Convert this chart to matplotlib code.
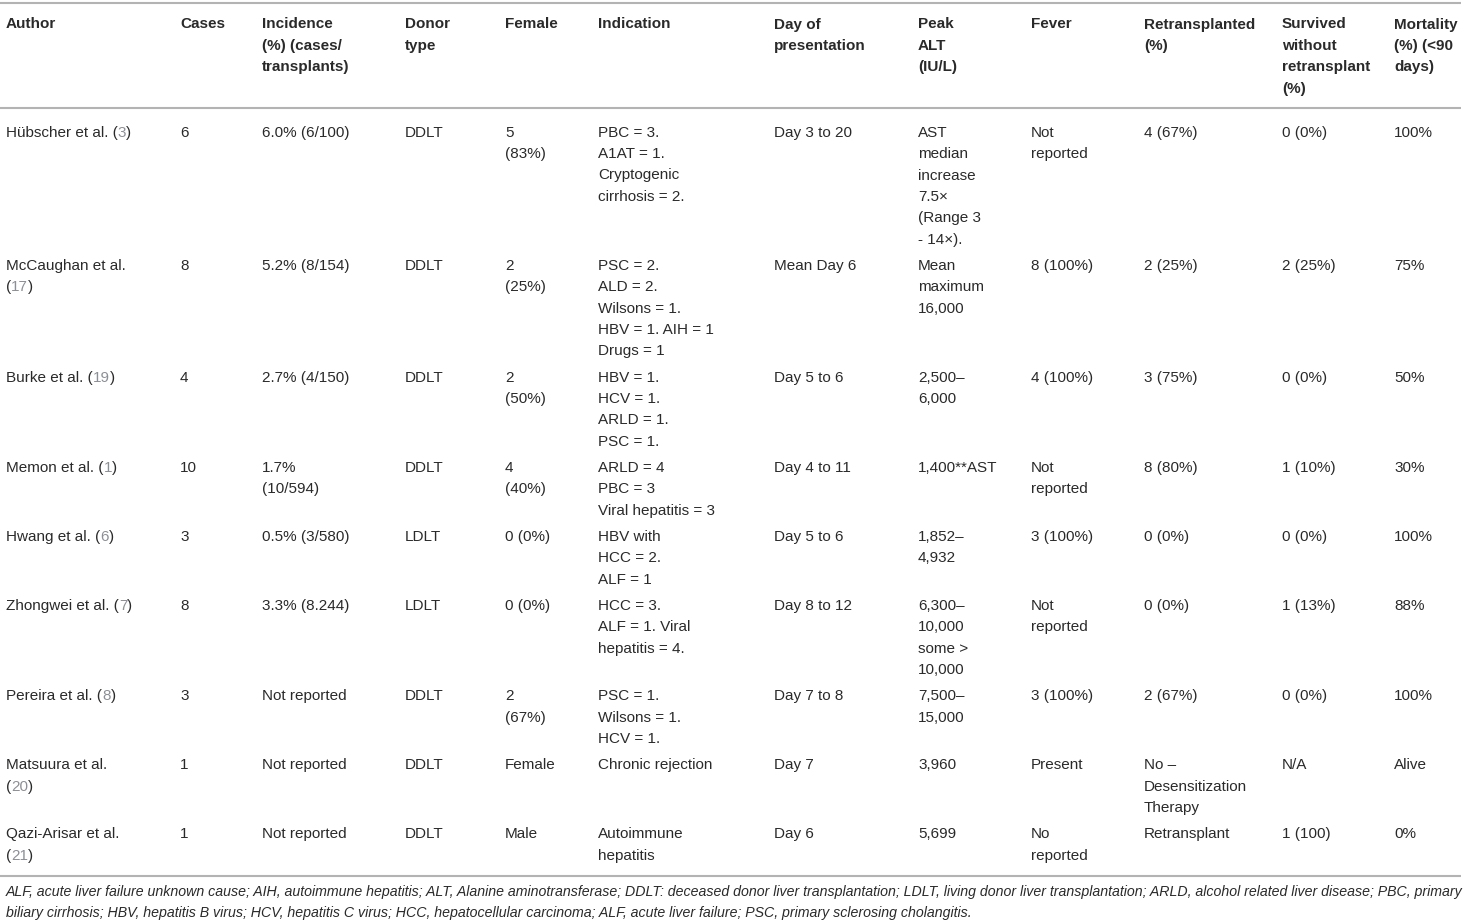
import matplotlib.pyplot as plt

plt.rcParams['font.family'] = ['Liberation Sans', 'DejaVu Sans']

headers = ["Author", "Cases", "Incidence\n(%) (cases/\ntransplants)", "Donor\ntype",
           "Female", "Indication", "Day of\npresentation", "Peak\nALT\n(IU/L)", "Fever",
           "Retransplanted\n(%)", "Survived\nwithout\nretransplant\n(%)",
           "Mortality\n(%) (<90\ndays)"]

authors = ["Hübscher et al.", "McCaughan et al.", "Burke et al.", "Memon et al.",
           "Hwang et al.", "Zhongwei et al.", "Pereira et al.", "Matsuura et al.",
           "Qazi-Arisar et al."]
refs = ["3", "17", "19", "1", "6", "7", "8", "20", "21"]
ref_newline = [False, True, False, False, False, False, False, True, True]

cases = ["6", "8", "4", "10", "3", "8", "3", "1", "1"]
incidence = ["6.0% (6/100)", "5.2% (8/154)", "2.7% (4/150)", "1.7%\n(10/594)",
             "0.5% (3/580)", "3.3% (8.244)", "Not reported", "Not reported", "Not reported"]
donor = ["DDLT", "DDLT", "DDLT", "DDLT", "LDLT", "LDLT", "DDLT", "DDLT", "DDLT"]
female = ["5\n(83%)", "2\n(25%)", "2\n(50%)", "4\n(40%)", "0 (0%)", "0 (0%)",
          "2\n(67%)", "Female", "Male"]
indication = ["PBC = 3.\nA1AT = 1.\nCryptogenic\ncirrhosis = 2.",
              "PSC = 2.\nALD = 2.\nWilsons = 1.\nHBV = 1. AIH = 1\nDrugs = 1",
              "HBV = 1.\nHCV = 1.\nARLD = 1.\nPSC = 1.",
              "ARLD = 4\nPBC = 3\nViral hepatitis = 3",
              "HBV with\nHCC = 2.\nALF = 1",
              "HCC = 3.\nALF = 1. Viral\nhepatitis = 4.",
              "PSC = 1.\nWilsons = 1.\nHCV = 1.",
              "Chronic rejection",
              "Autoimmune\nhepatitis"]
day = ["Day 3 to 20", "Mean Day 6", "Day 5 to 6", "Day 4 to 11", "Day 5 to 6",
       "Day 8 to 12", "Day 7 to 8", "Day 7", "Day 6"]
peak_alt = ["AST\nmedian\nincrease\n7.5×\n(Range 3\n- 14×).", "Mean\nmaximum\n16,000",
            "2,500–\n6,000", "1,400**AST", "1,852–\n4,932",
            "6,300–\n10,000\nsome >\n10,000", "7,500–\n15,000", "3,960", "5,699"]
fever = ["Not\nreported", "8 (100%)", "4 (100%)", "Not\nreported", "3 (100%)",
         "Not\nreported", "3 (100%)", "Present", "No\nreported"]
retransplanted = ["4 (67%)", "2 (25%)", "3 (75%)", "8 (80%)", "0 (0%)", "0 (0%)",
                  "2 (67%)", "No –\nDesensitization\nTherapy", "Retransplant"]
survived = ["0 (0%)", "2 (25%)", "0 (0%)", "1 (10%)", "0 (0%)", "1 (13%)", "0 (0%)",
            "N/A", "1 (100)"]
mortality = ["100%", "75%", "50%", "30%", "100%", "88%", "100%", "Alive", "0%"]

footnote = ("ALF, acute liver failure unknown cause; AIH, autoimmune hepatitis; ALT, Alanine "
            "aminotransferase; DDLT: deceased donor liver transplantation; LDLT, living donor "
            "liver transplantation; ARLD, alcohol related liver disease; PBC, primary\n"
            "biliary cirrhosis; HBV, hepatitis B virus; HCV, hepatitis C virus; HCC, "
            "hepatocellular carcinoma; ALF, acute liver failure; PSC, primary sclerosing cholangitis.")

other_cols = [cases, incidence, donor, female, indication, day, peak_alt, fever,
              retransplanted, survived, mortality]

col_x = [6, 180, 262, 405, 505, 598, 774, 918, 1031, 1144, 1282, 1394]
LH = 21.4
FS = 11
TXT = '#2a2a2a'
REF = '#8c9096'
RULE = '#b3b3b3'

fig = plt.figure(figsize=(14.64, 9.24), dpi=100)
ax = fig.add_axes([0, 0, 1, 1])
ax.set_xlim(0, 1464)
ax.set_ylim(924, 0)
ax.axis('off')


def put_lines(x, y0, text, **kw):
    for i, line in enumerate(text.split('\n')):
        ax.text(x, y0 + i * LH, line, va='baseline', ha='left', fontsize=FS, color=TXT, **kw)


def rule(y):
    ax.plot([0, 1461], [y, y], color=RULE, lw=1.5, solid_capstyle='butt')


# header block
top = 3
rule(top)
y = top + 25.5
for x, h in zip(col_x, headers):
    put_lines(x, y, h, fontweight='bold')
n_head = max(h.count('\n') + 1 for h in headers)
head_bottom = y + (n_head - 1) * LH + 15
rule(head_bottom)

# body rows, height follows the tallest cell
y = head_bottom + 29
for r in range(len(authors)):
    if ref_newline[r]:
        ax.text(col_x[0], y, authors[r], va='baseline', fontsize=FS, color=TXT)
        t = ax.text(col_x[0], y + LH, "(", va='baseline', fontsize=FS, color=TXT)
        n_auth = 2
    else:
        t = ax.text(col_x[0], y, authors[r] + " (", va='baseline', fontsize=FS, color=TXT)
        n_auth = 1
    t = ax.annotate(refs[r], xy=(1, 0), xycoords=t, va='bottom', ha='left',
                    fontsize=FS, color=REF)
    ax.annotate(")", xy=(1, 0), xycoords=t, va='bottom', ha='left', fontsize=FS, color=TXT)

    n_lines = n_auth
    for x, col in zip(col_x[1:], other_cols):
        put_lines(x, y, col[r])
        n_lines = max(n_lines, col[r].count('\n') + 1)
    last = y + (n_lines - 1) * LH
    y = last + LH + 4.8

bottom = last + 16.6
rule(bottom)

for i, line in enumerate(footnote.split('\n')):
    ax.text(6, bottom + 20 + i * 21, line, va='baseline', ha='left', fontsize=10.2,
            style='italic', color=TXT)

fig.savefig('out.png', dpi=100)
